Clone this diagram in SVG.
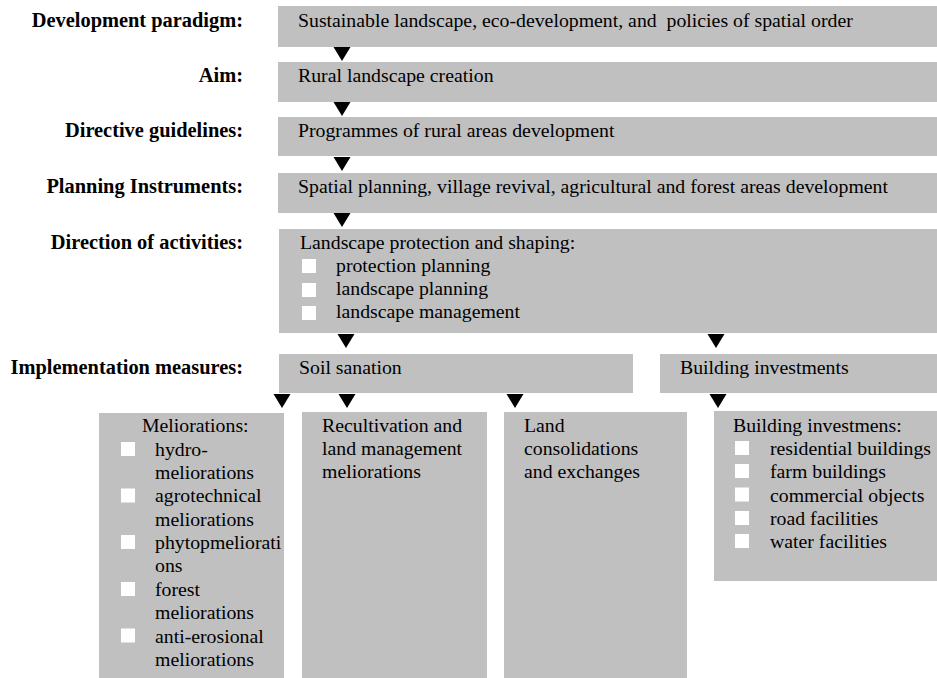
<svg xmlns="http://www.w3.org/2000/svg" width="937" height="678" viewBox="0 0 937 678">
<style>
.box{fill:#c0c0c0}
.sq{fill:#ffffff}
.t{font-family:"Liberation Serif","Times New Roman",serif;font-size:19.8px;fill:#000}
.lbl{font-family:"Liberation Serif","Times New Roman",serif;font-size:20.4px;font-weight:bold;fill:#000;text-anchor:end}
.arr{fill:#000}
</style>
<defs>
<polygon id="ar" points="-8.5,0 8.5,0 0,14"/>
<rect id="sq" width="14" height="14"/>
</defs>
<rect width="937" height="678" fill="#ffffff"/>

<g id="labels">
<text class="lbl" x="243" y="27">Development paradigm:</text>
<text class="lbl" x="243" y="82">Aim:</text>
<text class="lbl" x="243" y="137">Directive guidelines:</text>
<text class="lbl" x="243" y="193">Planning Instruments:</text>
<text class="lbl" x="243" y="249">Direction of activities:</text>
<text class="lbl" x="243" y="374">Implementation measures:</text>
</g>

<g id="node-paradigm">
<rect class="box" x="278" y="6" width="659" height="41"/>
<text class="t" x="298" y="27" style="white-space:pre">Sustainable landscape, eco-development, and  policies of spatial order</text>
</g>
<g id="node-aim">
<rect class="box" x="278" y="62" width="659" height="40"/>
<text class="t" x="298" y="82">Rural landscape creation</text>
</g>
<g id="node-guidelines">
<rect class="box" x="278" y="117" width="659" height="39"/>
<text class="t" x="298" y="137">Programmes of rural areas development</text>
</g>
<g id="node-instruments">
<rect class="box" x="278" y="173" width="659" height="40"/>
<text class="t" x="298" y="193">Spatial planning, village revival, agricultural and forest areas development</text>
</g>
<g id="node-direction">
<rect class="box" x="279" y="229" width="658" height="104"/>
<text class="t" x="300" y="249">Landscape protection and shaping:</text>
<use href="#sq" class="sq" x="302" y="259"/>
<text class="t" x="336" y="272">protection planning</text>
<use href="#sq" class="sq" x="302" y="283"/>
<text class="t" x="336" y="295">landscape planning</text>
<use href="#sq" class="sq" x="302" y="306"/>
<text class="t" x="336" y="318">landscape management</text>
</g>
<g id="node-soil">
<rect class="box" x="279" y="354" width="354" height="39"/>
<text class="t" x="299" y="374">Soil sanation</text>
</g>
<g id="node-building">
<rect class="box" x="660" y="354" width="277" height="39"/>
<text class="t" x="680" y="374">Building investments</text>
</g>
<g id="node-meliorations">
<rect class="box" x="99" y="413" width="185" height="265"/>
<text class="t" x="142" y="432">Meliorations:</text>
<use href="#sq" class="sq" x="121" y="442"/>
<text class="t" x="155" y="455.5">hydro-</text>
<text class="t" x="155" y="479">meliorations</text>
<use href="#sq" class="sq" x="121" y="488.5"/>
<text class="t" x="155" y="502.3">agrotechnical</text>
<text class="t" x="155" y="525.7">meliorations</text>
<use href="#sq" class="sq" x="121" y="535"/>
<text class="t" x="155" y="549">phytopmeliorati</text>
<text class="t" x="155" y="572.4">ons</text>
<use href="#sq" class="sq" x="121" y="582"/>
<text class="t" x="155" y="595.8">forest</text>
<text class="t" x="155" y="619.2">meliorations</text>
<use href="#sq" class="sq" x="121" y="628.5"/>
<text class="t" x="155" y="642.5">anti-erosional</text>
<text class="t" x="155" y="666">meliorations</text>
</g>
<g id="node-recultivation">
<rect class="box" x="302" y="412" width="185" height="266"/>
<text class="t" x="322" y="431.5">Recultivation and</text>
<text class="t" x="322" y="455">land management</text>
<text class="t" x="322" y="478">meliorations</text>
</g>
<g id="node-consolidation">
<rect class="box" x="504" y="412" width="183" height="266"/>
<text class="t" x="524" y="431.5">Land</text>
<text class="t" x="524" y="455">consolidations</text>
<text class="t" x="524" y="478">and exchanges</text>
</g>
<g id="node-building-list">
<rect class="box" x="714" y="411" width="223" height="170"/>
<text class="t" x="733" y="431.5">Building investmens:</text>
<use href="#sq" class="sq" x="735" y="441"/>
<text class="t" x="770" y="455">residential buildings</text>
<use href="#sq" class="sq" x="735" y="464"/>
<text class="t" x="770" y="478">farm buildings</text>
<use href="#sq" class="sq" x="735" y="487.5"/>
<text class="t" x="770" y="501.5">commercial objects</text>
<use href="#sq" class="sq" x="735" y="511"/>
<text class="t" x="770" y="525">road facilities</text>
<use href="#sq" class="sq" x="735" y="534"/>
<text class="t" x="770" y="548">water facilities</text>
</g>

<g id="connectors" class="arr">
<use href="#ar" x="342" y="47"/>
<use href="#ar" x="342" y="102"/>
<use href="#ar" x="342" y="157"/>
<use href="#ar" x="342" y="213"/>
<use href="#ar" x="346" y="334"/>
<use href="#ar" x="716" y="334"/>
<use href="#ar" x="282" y="394"/>
<use href="#ar" x="347" y="394"/>
<use href="#ar" x="515" y="394"/>
<use href="#ar" x="718" y="394"/>
</g>
</svg>
